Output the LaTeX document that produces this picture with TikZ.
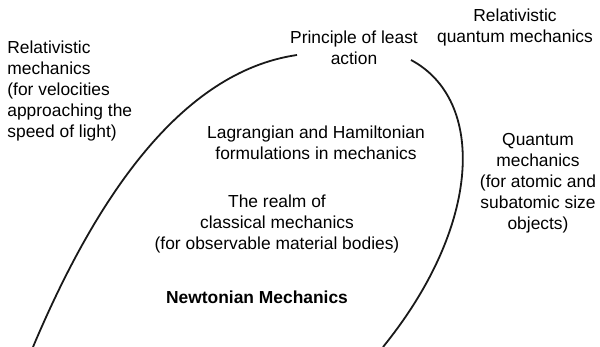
\documentclass[tikz,border=0pt]{standalone}
\usepackage{fontspec}
\setmainfont{Liberation Sans}
\usetikzlibrary{positioning}

\begin{document}
\begin{tikzpicture}[x=0.5pt,y=-0.5pt,inner sep=0pt]
\tikzstyle{label}=[font=\fontsize{8.7}{10.5}\selectfont, align=center, text=black]
\tikzstyle{border}=[line width=0.9pt, black!90]
\useasboundingbox (0,0) rectangle (600,347);
\node[label,align=left,anchor=west] (relmech) at (7,91) {Relativistic\\mechanics\\(for velocities\\approaching the\\speed of light)};
\node[label] (action) at (354,48) {Principle of least\\action};
\node[label] (relqm) at (515,27.5) {Relativistic\\quantum mechanics};
\node[label] (lagrange) at (316,143) {Lagrangian and Hamiltonian\\formulations in mechanics};
\node[label] (quantum) at (538,183.5) {Quantum\\mechanics\\(for atomic and\\subatomic size\\objects)};
\node[label] (realm) at (277,223.5) {The realm of\\classical mechanics\\(for observable material bodies)};
\node[label,font=\fontsize{8.7}{10.5}\selectfont\bfseries] (newton) at (257,297) {Newtonian Mechanics};

% boundary of classical mechanics
\draw[border] (33,347) .. controls (95,200) and (180,72) .. (297,55);
\draw[border] (411,60) .. controls (486,100) and (482,225) .. (383,347);
\end{tikzpicture}
\end{document}
